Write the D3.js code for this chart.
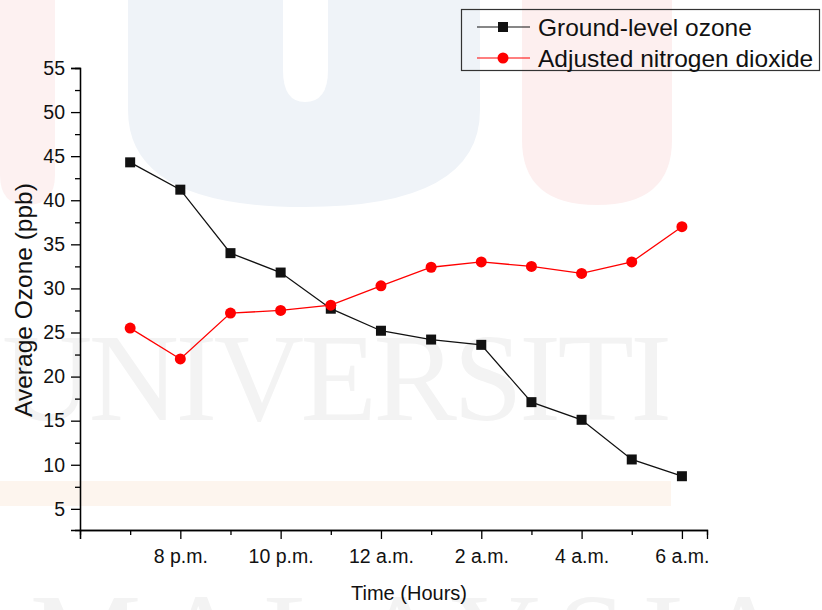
<!DOCTYPE html>
<head>
    <meta charset="utf-8">
    <title>Ozone and NO2 by hour</title>
    <style>
        body { margin: 0; background: #fff; }
        text { font-family: Arial, "Liberation Sans", sans-serif; fill: #111; }
        .axis text { font-size: 19.5px; }
        .axis path, .axis line { stroke: #000; stroke-width: 1.3px; }
    </style>
    <script src="https://cdn.jsdelivr.net/npm/d3@7"></script>
</head>
<body>
    <script>
        // hours: 19 = 7 p.m. ... 30 = 6 a.m. (next day)
        var hours = [19, 20, 21, 22, 23, 24, 25, 26, 27, 28, 29, 30];
        var ozone = [44.3, 41.2, 34.0, 31.8, 27.7, 25.2, 24.2, 23.6, 17.1, 15.1, 10.6, 8.7];
        var no2 = [25.5, 22.0, 27.2, 27.5, 28.1, 30.3, 32.4, 33.0, 32.5, 31.7, 33.0, 37.0];
        var xTickValues = [20, 22, 24, 26, 28, 30];
        var xTickLabels = ["8 p.m.", "10 p.m.", "12 a.m.", "2 a.m.", "4 a.m.", "6 a.m."];
        var seriesNames = ["Ground-level ozone", "Adjusted nitrogen dioxide"];

        var W = 822, H = 610;
        var svg = d3.select("body").append("svg")
            .attr("width", W)
            .attr("height", H);

        // faint watermark behind the chart
        var wm = svg.append("g").attr("id", "watermark");
        wm.append("path")
            .attr("d", "M0,0 H55 V175 Q55,205 27,205 Q0,205 0,175 Z")
            .attr("fill", "#fdf1f1");
        wm.append("path")
            .attr("d", "M128,0 H480 V110 Q480,207 304,207 Q128,207 128,110 Z")
            .attr("fill", "#eff3f8");
        wm.append("path")
            .attr("d", "M283,0 H328 V70 Q328,102 305,102 Q283,102 283,70 Z")
            .attr("fill", "#ffffff");
        wm.append("path")
            .attr("d", "M522,0 H672 V140 Q672,205 597,205 Q522,205 522,140 Z")
            .attr("fill", "#fdefef");
        wm.append("rect")
            .attr("x", 0).attr("y", 481).attr("width", 671).attr("height", 25)
            .attr("fill", "#fdf5ee");
        wm.append("text")
            .attr("x", 2).attr("y", 420)
            .attr("textLength", 670)
            .style("font-family", "'Liberation Serif', serif")
            .style("font-size", "125px")
            .style("fill", "#f3f3f3")
            .text("UNIVERSITI");
        wm.append("text")
            .attr("x", 30).attr("y", 680)
            .attr("textLength", 760)
            .style("font-family", "'Liberation Serif', serif")
            .style("font-size", "125px")
            .style("fill", "#f3f3f3")
            .text("MALAYSIA");

        var x = d3.scaleLinear().domain([18, 30.5]).range([80, 707]);
        var y = d3.scaleLinear().domain([2.6, 55]).range([530, 68]);

        // x axis: minor ticks then labelled major ticks
        svg.append("g")
            .attr("class", "axis")
            .attr("transform", "translate(0,530)")
            .call(d3.axisBottom(x).tickValues(d3.range(19, 30, 2)).tickSize(5).tickFormat(""));
        svg.append("g")
            .attr("class", "axis")
            .attr("id", "x_axis")
            .attr("transform", "translate(0,530)")
            .call(d3.axisBottom(x).tickValues([18].concat(xTickValues)).tickSizeOuter(0).tickSize(9)
                .tickPadding(10)
                .tickFormat(function (d) { var i = xTickValues.indexOf(d); return i < 0 ? "" : xTickLabels[i]; }));

        // y axis
        svg.append("g")
            .attr("class", "axis")
            .attr("transform", "translate(80,0)")
            .call(d3.axisLeft(y).tickValues(d3.range(7.5, 55, 5)).tickSize(5).tickFormat(""));
        svg.append("g")
            .attr("class", "axis")
            .attr("id", "y_axis")
            .attr("transform", "translate(80,0)")
            .call(d3.axisLeft(y).tickValues(d3.range(5, 56, 5)).tickSizeOuter(0).tickSize(9).tickPadding(6));

        svg.append("text")
            .attr("x", 409).attr("y", 600)
            .style("text-anchor", "middle")
            .style("font-size", "20px")
            .text("Time (Hours)");
        svg.append("text")
            .attr("transform", "translate(32,300) rotate(-90)")
            .style("text-anchor", "middle")
            .style("font-size", "24.5px")
            .text("Average Ozone (ppb)");

        var line = d3.line()
            .x(function (d) { return x(d.h); })
            .y(function (d) { return y(d.v); });

        var ozoneData = hours.map(function (h, i) { return { h: h, v: ozone[i] }; });
        var no2Data = hours.map(function (h, i) { return { h: h, v: no2[i] }; });

        svg.append("path").datum(ozoneData)
            .attr("d", line).attr("fill", "none")
            .attr("stroke", "#111").attr("stroke-width", 1.3);
        svg.append("path").datum(no2Data)
            .attr("d", line).attr("fill", "none")
            .attr("stroke", "#ff0000").attr("stroke-width", 1.3);

        svg.append("g").selectAll("rect")
            .data(ozoneData).enter().append("rect")
            .attr("x", function (d) { return x(d.h) - 5; })
            .attr("y", function (d) { return y(d.v) - 5; })
            .attr("width", 10).attr("height", 10)
            .attr("fill", "#111");
        svg.append("g").selectAll("circle")
            .data(no2Data).enter().append("circle")
            .attr("cx", function (d) { return x(d.h); })
            .attr("cy", function (d) { return y(d.v); })
            .attr("r", 5.5)
            .attr("fill", "#ff0000");

        // legend
        var legend = svg.append("g").attr("id", "legend");
        legend.append("rect")
            .attr("x", 461.5).attr("y", 9.5).attr("width", 358).attr("height", 61)
            .attr("fill", "none").attr("stroke", "#333").attr("stroke-width", 1.2);
        var colors = ["#111", "#ff0000"];
        seriesNames.forEach(function (name, i) {
            var ly = 27 + i * 31;
            legend.append("line")
                .attr("x1", 477).attr("x2", 530).attr("y1", ly).attr("y2", ly)
                .attr("stroke", colors[i]).attr("stroke-width", 1.2);
            if (i === 0) {
                legend.append("rect").attr("x", 498).attr("y", ly - 5)
                    .attr("width", 10).attr("height", 10).attr("fill", colors[i]);
            } else {
                legend.append("circle").attr("cx", 503).attr("cy", ly)
                    .attr("r", 5.5).attr("fill", colors[i]);
            }
            legend.append("text")
                .attr("x", 538).attr("y", ly)
                .attr("dy", "0.35em")
                .style("font-size", "24.5px")
                .text(name);
        });
    </script>
</body>
